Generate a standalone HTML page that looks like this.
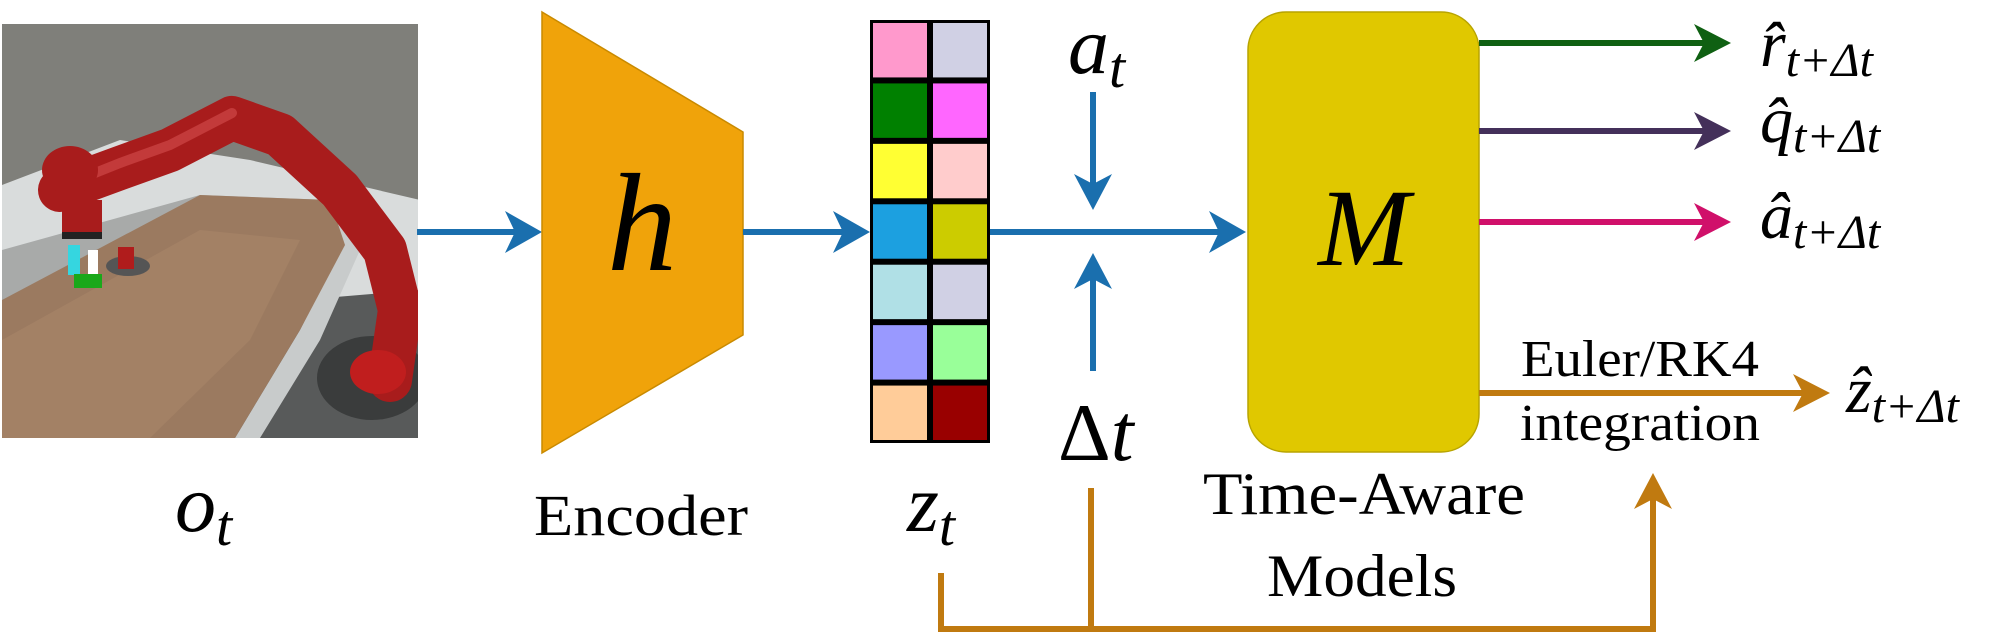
<!DOCTYPE html>
<html><head><meta charset="utf-8">
<style>
html,body{margin:0;padding:0;background:#fff;}
svg{display:block;}
text{font-family:"Liberation Serif",serif;fill:#000;}
.it{font-style:italic;}
</style></head>
<body>
<svg width="2001" height="639" viewBox="0 0 2001 639" xmlns="http://www.w3.org/2000/svg">
<defs>
<clipPath id="pc"><rect x="2" y="24" width="416" height="414"/></clipPath>
</defs>

<!-- Observation photo -->
<g clip-path="url(#pc)">
  <rect x="2" y="24" width="416" height="414" fill="#7f7f7a"/>
  <polygon points="2,185 120,140 250,160 420,200 420,300 2,300" fill="#d9dcdc"/>
  <polygon points="2,250 200,195 330,200 360,250 2,330" fill="#a8aaa9"/>
  <polygon points="300,300 420,290 420,438 230,438" fill="#585a5a"/>
  <polygon points="330,200 360,250 320,340 260,438 235,438 300,330 340,250" fill="#c8cbcb"/>
  <polygon points="2,300 200,195 330,200 345,245 300,330 235,438 2,438" fill="#9b7a60"/>
  <polygon points="2,340 200,230 300,240 250,340 150,438 2,438" fill="#a88569" opacity="0.6"/>
  <ellipse cx="372" cy="378" rx="55" ry="42" fill="#3a3c3c"/>
  <path d="M60,190 L120,168 L170,150 L232,118 L280,135 L340,190 L385,250 L400,310 L390,380" fill="none" stroke="#a81c1c" stroke-width="44" stroke-linecap="round" stroke-linejoin="round"/>
  <path d="M65,185 L120,163 L170,145 L232,113" fill="none" stroke="#c33a3a" stroke-width="10" stroke-linecap="round"/>
  <ellipse cx="70" cy="170" rx="28" ry="24" fill="#a81c1c"/>
  <rect x="62" y="200" width="40" height="36" fill="#a81c1c"/>
  <rect x="62" y="232" width="40" height="7" fill="#222"/>
  <rect x="68" y="245" width="12" height="30" fill="#35d6e0"/>
  <rect x="88" y="250" width="10" height="25" fill="#fff"/>
  <rect x="74" y="274" width="28" height="14" fill="#1aa81a"/>
  <ellipse cx="128" cy="266" rx="22" ry="10" fill="#555"/>
  <rect x="118" y="247" width="16" height="22" fill="#b01c1c"/>
  <ellipse cx="378" cy="372" rx="28" ry="22" fill="#c01e1e"/>
</g>

<!-- arrow photo -> encoder -->
<g>
  <line x1="417" y1="232" x2="525" y2="232" stroke="#1a6fae" stroke-width="6"/>
  <polygon points="542,232 505,211 515,232 505,253" fill="#1a6fae"/>
</g>

<!-- encoder -->
<polygon points="542,12 743,132 743,335 542,453" fill="#f0a30a" stroke="#c98a00" stroke-width="1.5"/>
<text class="it" x="642" y="270" font-size="140" text-anchor="middle">h</text>

<!-- arrow encoder -> z -->
<g>
  <line x1="743" y1="232" x2="853" y2="232" stroke="#1a6fae" stroke-width="6"/>
  <polygon points="870,232 833,211 843,232 833,253" fill="#1a6fae"/>
</g>

<!-- latent grid -->
<g id="grid"></g>

<!-- line z -> M -->
<g>
  <line x1="990" y1="232" x2="1228" y2="232" stroke="#1a6fae" stroke-width="6"/>
  <polygon points="1246,232 1209,211 1219,232 1209,253" fill="#1a6fae"/>
</g>
<g>
  <line x1="1093" y1="92" x2="1093" y2="195" stroke="#1a6fae" stroke-width="6"/>
  <polygon points="1093,210 1074,174 1093,184 1112,174" fill="#1a6fae"/>
</g>
<g>
  <line x1="1093" y1="371" x2="1093" y2="268" stroke="#1a6fae" stroke-width="6"/>
  <polygon points="1093,253 1074,289 1093,279 1112,289" fill="#1a6fae"/>
</g>
<text class="it" x="1068" y="73" font-size="82">a<tspan font-size="58" dy="14">t</tspan></text>
<text x="1058" y="460" font-size="82">Δ<tspan class="it">t</tspan></text>

<!-- model box -->
<rect x="1248" y="12" width="231" height="440" rx="38" fill="#e0c800" stroke="#b8a400" stroke-width="1.5"/>
<text class="it" x="1364" y="265" font-size="110" text-anchor="middle">M</text>

<!-- outputs -->
<g>
  <line x1="1479" y1="43" x2="1712" y2="43" stroke="#0f6012" stroke-width="6"/>
  <polygon points="1731,43 1694,24 1704,43 1694,62" fill="#0f6012"/>
</g>
<g>
  <line x1="1479" y1="131" x2="1712" y2="131" stroke="#44305a" stroke-width="6"/>
  <polygon points="1731,131 1694,112 1704,131 1694,150" fill="#44305a"/>
</g>
<g>
  <line x1="1479" y1="222" x2="1712" y2="222" stroke="#d0106a" stroke-width="6"/>
  <polygon points="1731,222 1694,203 1704,222 1694,241" fill="#d0106a"/>
</g>
<g>
  <line x1="1479" y1="393" x2="1812" y2="393" stroke="#c07a10" stroke-width="6"/>
  <polygon points="1830,393 1793,374 1803,393 1793,412" fill="#c07a10"/>
</g>

<text class="it" x="1760" y="66" font-size="66">r̂<tspan font-size="48" dy="10">t+Δt</tspan></text>
<text class="it" x="1760" y="142" font-size="66">q̂<tspan font-size="48" dy="10">t+Δt</tspan></text>
<text class="it" x="1760" y="238" font-size="66">â<tspan font-size="48" dy="10">t+Δt</tspan></text>
<text class="it" x="1846" y="412" font-size="66">ẑ<tspan font-size="48" dy="10">t+Δt</tspan></text>

<text x="1640" y="376" font-size="52" text-anchor="middle" textLength="238" lengthAdjust="spacingAndGlyphs">Euler/RK4</text>
<text x="1640" y="440" font-size="52" text-anchor="middle" textLength="240" lengthAdjust="spacingAndGlyphs">integration</text>

<!-- labels -->
<text class="it" x="175" y="531" font-size="82">o<tspan font-size="58" dy="14">t</tspan></text>
<text x="641" y="535" font-size="58" text-anchor="middle" textLength="214" lengthAdjust="spacingAndGlyphs">Encoder</text>
<text class="it" x="907" y="531" font-size="82">z<tspan font-size="58" dy="14">t</tspan></text>
<text x="1364" y="514" font-size="60" text-anchor="middle" textLength="322" lengthAdjust="spacingAndGlyphs">Time-Aware</text>
<text x="1362" y="596" font-size="60" text-anchor="middle" textLength="190" lengthAdjust="spacingAndGlyphs">Models</text>

<!-- bottom feedback -->
<g>
  <polyline points="941,573 941,629 1653,629 1653,490" fill="none" stroke="#c07a10" stroke-width="6"/>
  <line x1="1091" y1="488" x2="1091" y2="629" stroke="#c07a10" stroke-width="6"/>
  <polygon points="1653,473 1634,509 1653,499 1672,509" fill="#c07a10"/>
</g>
</svg>
<script>
const gridColors = [
  ["#ff99cc","#d0d0e4"],
  ["#008000","#ff66ff"],
  ["#ffff33","#ffcccc"],
  ["#1ca0e0","#cccc00"],
  ["#b0e0e6","#d0d0e4"],
  ["#9999ff","#99ff99"],
  ["#ffcc99","#990000"]
];
const g = document.getElementById('grid');
const NS = 'http://www.w3.org/2000/svg';
const gx0 = 870, gy0 = 20, gw = 120, gh = 423;
const cw = gw / 2, ch = gh / gridColors.length;
const bg = document.createElementNS(NS,'rect');
bg.setAttribute('x', gx0); bg.setAttribute('y', gy0);
bg.setAttribute('width', gw); bg.setAttribute('height', gh);
bg.setAttribute('fill', '#000');


g.appendChild(bg);
gridColors.forEach((row, r) => {
  row.forEach((c, k) => {
    const el = document.createElementNS(NS,'rect');
    el.setAttribute('x', gx0 + k*cw + 3);
    el.setAttribute('y', gy0 + r*ch + 3);
    el.setAttribute('width', cw - 6);
    el.setAttribute('height', ch - 6);
    el.setAttribute('fill', c);
    
    
    g.appendChild(el);
  });
});
</script>
</body></html>
